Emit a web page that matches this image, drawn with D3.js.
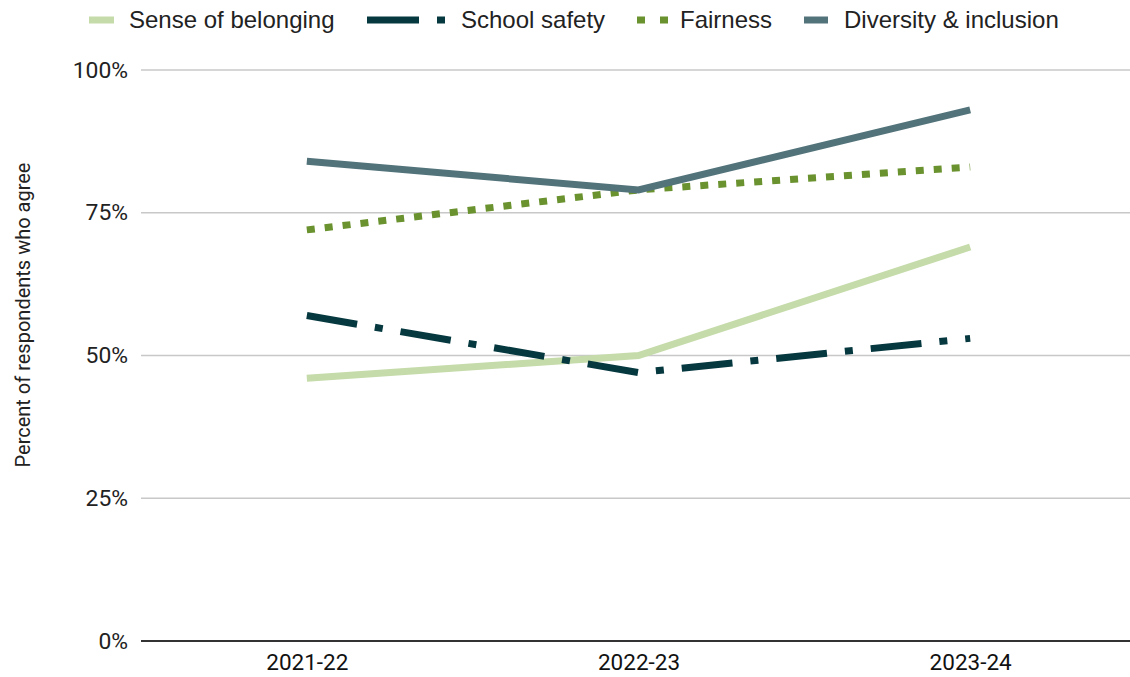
<!DOCTYPE html>
<html><head><meta charset="utf-8">
<script src="https://cdn.jsdelivr.net/npm/d3@7"></script>
<style>body{margin:0;background:#fff}svg{display:block}</style>
</head><body>
<svg id="c" width="1130" height="677"></svg>
<script>
const categories = ["2021-22", "2022-23", "2023-24"];
const seriesNames = ["Sense of belonging", "School safety", "Fairness", "Diversity & inclusion"];
const senseOfBelonging = [46, 50, 69];
const schoolSafety = [57, 47, 53];
const fairness = [72, 79, 83];
const diversityInclusion = [84, 79, 93];
const yTicks = [0, 25, 50, 75, 100];

const styles = [
  {color: "#c5dba9", dash: null},
  {color: "#05383f", dash: "51,18,8,18"},
  {color: "#6a922e", dash: "8,10"},
  {color: "#52737a", dash: null}
];
const series = [senseOfBelonging, schoolSafety, fairness, diversityInclusion].map((v, i) => ({name: seriesNames[i], values: v, style: styles[i]}));

const svg = d3.select("#c");
const mLeft = 141, mRight = 1130, mTop = 70, mBottom = 641;
const x = d3.scalePoint().domain(categories).range([mLeft, 1136]).padding(0.5);
const y = d3.scaleLinear().domain([0, 100]).range([mBottom, mTop]);

// gridlines
svg.append("g").selectAll("line").data(yTicks.filter(d => d > 0)).join("line")
  .attr("x1", mLeft).attr("x2", mRight).attr("y1", d => y(d)).attr("y2", d => y(d))
  .attr("stroke", "#c8c8c8").attr("stroke-width", 1.5);

// y axis labels
const yAxis = svg.append("g").attr("transform", `translate(${mLeft - 13},0)`)
  .call(d3.axisLeft(y).tickValues(yTicks).tickFormat(d => d + "%").tickSize(0).tickPadding(0));
yAxis.select(".domain").remove();
yAxis.selectAll("text").attr("font-family", "Roboto").attr("font-size", 22).attr("fill", "#222")
  .attr("transform", "scale(1.04,1)");

// baseline
svg.append("line").attr("x1", mLeft).attr("x2", mRight).attr("y1", y(0)).attr("y2", y(0))
  .attr("stroke", "#333").attr("stroke-width", 2);

// x axis labels
const xAxis = svg.append("g").attr("transform", `translate(0,${mBottom})`)
  .call(d3.axisBottom(x).tickSize(0).tickPadding(13));
xAxis.select(".domain").remove();
xAxis.selectAll("text").attr("font-family", "Roboto").attr("font-size", 22.5).attr("fill", "#111");

// y title
svg.append("text").attr("transform", `translate(30,315) rotate(-90)`)
  .attr("text-anchor", "middle").attr("font-family", "Roboto").attr("font-size", 20).attr("fill", "#222")
  .text("Percent of respondents who agree");

// lines
const line = d3.line().x((d, i) => x(categories[i])).y(d => y(d));
svg.append("g").selectAll("path").data(series).join("path")
  .attr("d", d => line(d.values)).attr("fill", "none")
  .attr("stroke", d => d.style.color).attr("stroke-width", 7)
  .attr("stroke-dasharray", d => d.style.dash).attr("stroke-linecap", "butt").attr("stroke-linejoin", "miter");

// legend
const legendX = [89, 367, 637, 804];
const legendSwatchW = [25, 78, 31, 24];
const legendTextX = [129, 461, 680, 844];
const lg = svg.append("g").selectAll("g").data(series).join("g");
lg.append("line").attr("x1", (d, i) => legendX[i]).attr("x2", (d, i) => legendX[i] + legendSwatchW[i]).attr("y1", 20).attr("y2", 20)
  .attr("stroke", d => d.style.color).attr("stroke-width", 7)
  .attr("stroke-dasharray", (d, i) => i === 1 ? "52,18,8,40" : i === 2 ? "8,15" : null);
lg.append("text").attr("x", (d, i) => legendTextX[i]).attr("y", 20).attr("dy", "0.35em")
  .attr("font-family", "Liberation Sans, Arial").attr("font-size", 24).attr("fill", "#222")
  .text(d => d.name);
</script>
</body></html>
